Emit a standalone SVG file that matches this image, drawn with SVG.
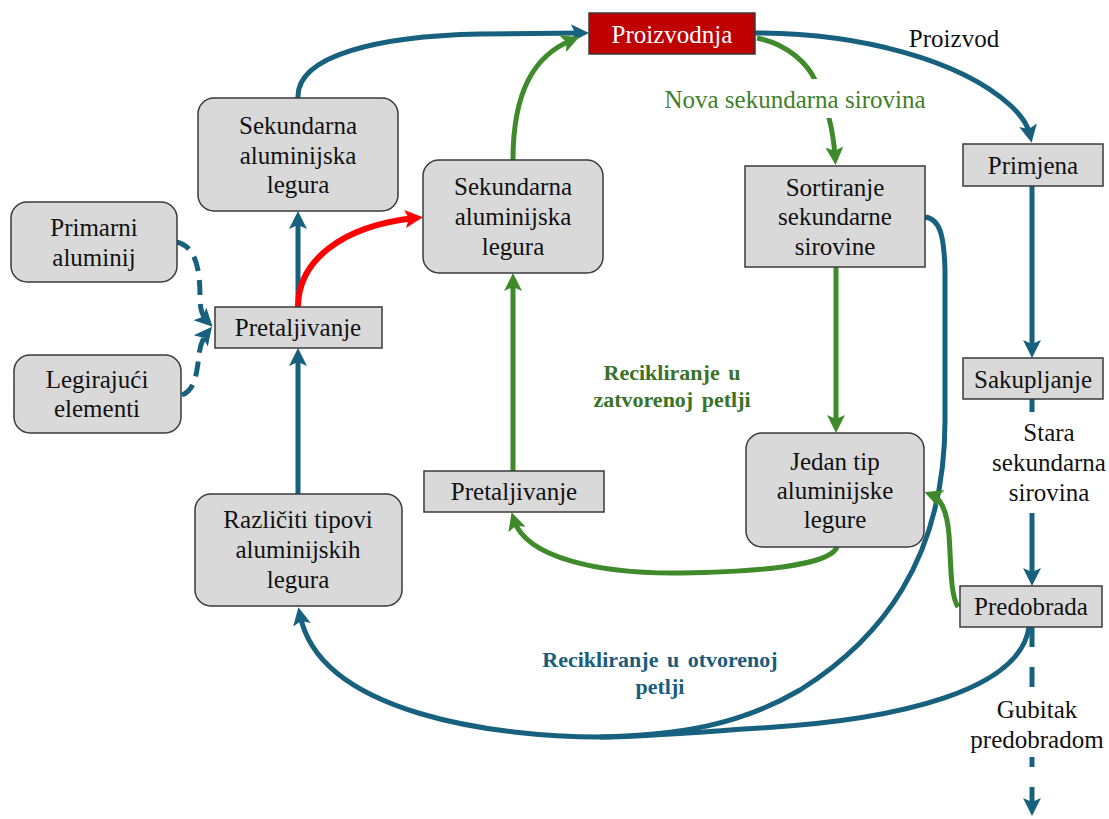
<svg xmlns="http://www.w3.org/2000/svg" width="1109" height="819" viewBox="0 0 1109 819">
<style>
  .box{fill:#d9d9d9;stroke:#3a3a3a;stroke-width:1.5}
  .t{font-family:"Liberation Serif","Times New Roman",serif;font-size:25px;fill:#111;text-anchor:middle}
  .b{stroke:#17617f;stroke-width:5;fill:none}
  .g{stroke:#3f8a2b;stroke-width:5;fill:none}
  .r{stroke:#ff0000;stroke-width:6;fill:none}
  .lbg{fill:#ffffff}
  .lb{font-family:"Liberation Serif","Times New Roman",serif;font-size:22px;font-weight:bold;text-anchor:middle;word-spacing:3px}
</style>
<defs>
  <marker id="ab" markerUnits="userSpaceOnUse" markerWidth="20" markerHeight="20" viewBox="0 0 20 20" refX="10" refY="10" orient="auto"><path d="M0,1 L18,10 L0,19 L4,10 z" fill="#17617f"/></marker>
  <marker id="ag" markerUnits="userSpaceOnUse" markerWidth="20" markerHeight="20" viewBox="0 0 20 20" refX="10" refY="10" orient="auto"><path d="M0,1 L18,10 L0,19 L4,10 z" fill="#3f8a2b"/></marker>
  <marker id="ar" markerUnits="userSpaceOnUse" markerWidth="20" markerHeight="20" viewBox="0 0 20 20" refX="10" refY="10" orient="auto"><path d="M0,1 L18,10 L0,19 L4,10 z" fill="#ff0000"/></marker>
</defs>
<rect width="1109" height="819" fill="#ffffff"/>
<g id="connectors">
  <path class="b" d="M298,98 C296,55 380,36 480,34 L581,33" marker-end="url(#ab)"/>
  <path class="g" d="M513,160 C513,90 535,55 572,40" marker-end="url(#ag)"/>
  <path class="b" d="M298,307 L298,219" marker-end="url(#ab)"/>
  <path class="b" d="M298,494 L298,356" marker-end="url(#ab)"/>
  <path class="r" d="M298,307 C298,262 340,226 415,218" marker-end="url(#ar)"/>
  <path class="g" d="M513,471 L513,281" marker-end="url(#ag)"/>
  <path class="b" d="M176,242 C198,246 200,275 200,298 C200,310 203,317 207,321" stroke-dasharray="15 9" marker-end="url(#ab)"/>
  <path class="b" d="M182,395 C196,390 197,370 199,355 C200,345 203,338 207,333" stroke-dasharray="15 9" marker-end="url(#ab)"/>
  <path class="b" d="M755,33 C860,33 960,60 1010,105 C1022,116 1028,125 1030,135" marker-end="url(#ab)"/>
  <path class="g" d="M757,38 C790,45 808,65 815,80 C825,100 833,125 835,157" marker-end="url(#ag)"/>
  <path class="g" d="M836,267 L836,425" marker-end="url(#ag)"/>
  <path class="b" d="M1032,186 L1032,350" marker-end="url(#ab)"/>
  <path class="b" d="M1032,399 L1032,578" marker-end="url(#ab)"/>
  <path class="b" d="M1032,627 L1032,808" stroke-dasharray="20 20" marker-end="url(#ab)"/>
  <path class="b" d="M925,217 C940,219 944,235 945,270 L945,420 C945,560 880,640 800,690 C740,725 680,735 600,737 C500,737 320,715 300,615" stroke-width="6" marker-end="url(#ab)"/>
  <path class="b" d="M1029,627 C1020,690 900,720 760,728 C700,732 640,737 600,737" stroke-width="6"/>
  <path class="g" d="M958,607 C950,595 951,560 949,535 C947,510 940,498 932,495" marker-end="url(#ag)"/>
  <path class="g" d="M837,547 C830,565 760,572 680,573 C600,574 526,558 514,520" marker-end="url(#ag)"/>
</g>
<g id="labels">
  <text class="t" x="954" y="47">Proizvod</text>
  <rect class="lbg" x="640" y="79" width="314" height="39"/>
  <text class="t" x="795" y="108" style="fill:#3f7f2a" font-size="24">Nova sekundarna sirovina</text>
  <text class="lb" x="672" y="380" fill="#3a7327">Recikliranje u</text>
  <text class="lb" x="672" y="407" fill="#3a7327">zatvorenoj petlji</text>
  <text class="lb" x="660" y="667" fill="#1a5c7c">Recikliranje u otvorenoj</text>
  <text class="lb" x="660" y="694" fill="#1a5c7c">petlji</text>
  <rect class="lbg" x="986" y="412" width="123" height="101"/>
  <text class="t" x="1049" y="441">Stara</text>
  <text class="t" x="1049" y="471">sekundarna</text>
  <text class="t" x="1049" y="501">sirovina</text>
  <rect class="lbg" x="975" y="693" width="134" height="64"/>
  <text class="t" x="1037" y="718">Gubitak</text>
  <text class="t" x="1037" y="748">predobradom</text>
</g>
<g id="n-proizvodnja">
  <rect x="589" y="13" width="166" height="41" fill="#c00000" stroke="#3a3a3a" stroke-width="1.5"/>
  <text class="t" x="672" y="43" style="fill:#ffffff">Proizvodnja</text>
</g>
<g id="n-sek-left">
  <rect class="box" x="198" y="98" width="200" height="113" rx="16"/>
  <text class="t" x="298" y="134">Sekundarna</text>
  <text class="t" x="298" y="164">aluminijska</text>
  <text class="t" x="298" y="193">legura</text>
</g>
<g id="n-sek-mid">
  <rect class="box" x="423" y="160" width="180" height="113" rx="16"/>
  <text class="t" x="513" y="195">Sekundarna</text>
  <text class="t" x="513" y="225">aluminijska</text>
  <text class="t" x="513" y="255">legura</text>
</g>
<g id="n-primarni">
  <rect class="box" x="11" y="202" width="166" height="80" rx="16"/>
  <text class="t" x="94" y="236">Primarni</text>
  <text class="t" x="94" y="266">aluminij</text>
</g>
<g id="n-legirajuci">
  <rect class="box" x="14" y="355" width="167" height="78" rx="16"/>
  <text class="t" x="97" y="388">Legirajući</text>
  <text class="t" x="97" y="417">elementi</text>
</g>
<g id="n-pretaljivanje-left">
  <rect class="box" x="215" y="307" width="167" height="41"/>
  <text class="t" x="298" y="336">Pretaljivanje</text>
</g>
<g id="n-razliciti">
  <rect class="box" x="195" y="494" width="207" height="112" rx="16"/>
  <text class="t" x="298" y="528">Različiti tipovi</text>
  <text class="t" x="298" y="558">aluminijskih</text>
  <text class="t" x="298" y="588">legura</text>
</g>
<g id="n-pretaljivanje-mid">
  <rect class="box" x="424" y="471" width="180" height="41"/>
  <text class="t" x="514" y="500">Pretaljivanje</text>
</g>
<g id="n-sortiranje">
  <rect class="box" x="745" y="166" width="180" height="101"/>
  <text class="t" x="835" y="196">Sortiranje</text>
  <text class="t" x="835" y="225">sekundarne</text>
  <text class="t" x="835" y="255">sirovine</text>
</g>
<g id="n-jedan-tip">
  <rect class="box" x="746" y="433" width="178" height="114" rx="16"/>
  <text class="t" x="835" y="470">Jedan tip</text>
  <text class="t" x="835" y="499">aluminijske</text>
  <text class="t" x="835" y="528">legure</text>
</g>
<g id="n-primjena">
  <rect class="box" x="963" y="144" width="140" height="42"/>
  <text class="t" x="1033" y="174">Primjena</text>
</g>
<g id="n-sakupljanje">
  <rect class="box" x="963" y="358" width="140" height="41"/>
  <text class="t" x="1033" y="388">Sakupljanje</text>
</g>
<g id="n-predobrada">
  <rect class="box" x="960" y="586" width="142" height="41"/>
  <text class="t" x="1031" y="615">Predobrada</text>
</g>
</svg>
